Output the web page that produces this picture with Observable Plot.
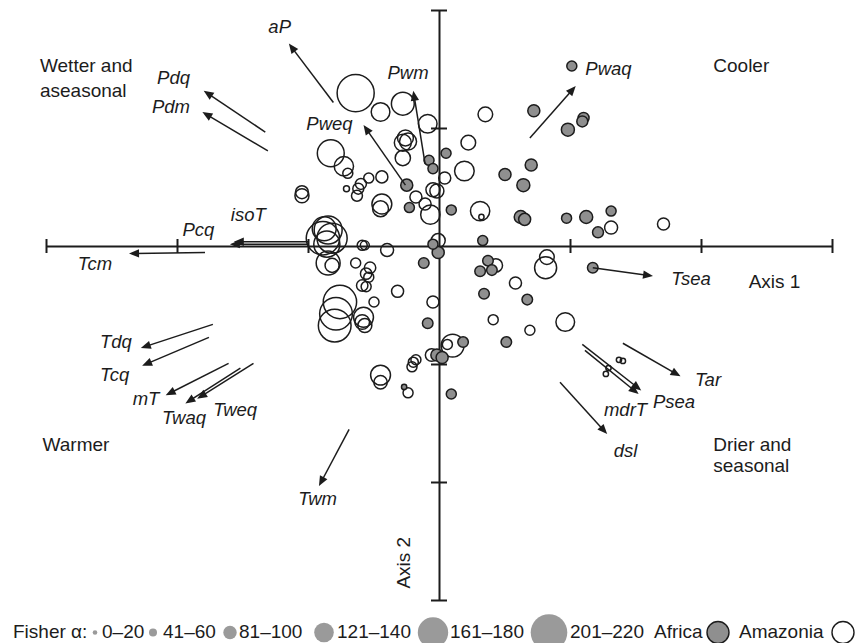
<!DOCTYPE html>
<html>
<head>
<meta charset="utf-8">
<script src="https://cdn.jsdelivr.net/npm/d3@7"></script>
<script src="https://cdn.jsdelivr.net/npm/@observablehq/plot@0.6"></script>
<style>
  html, body { margin: 0; padding: 0; background: #fff; }
  #chart { width: 857px; height: 643px; overflow: hidden; font-family: "Liberation Sans", Arial, Helvetica, sans-serif; }
  #chart svg { display: block; }
</style>
</head>
<body>
<div id="chart"></div>
<script>
// ---------- Amazonia plots (open circles): ordination scores + Fisher's alpha ----------
const amazX = [0.35,0.22,0.19,0.04,0.31,0.32,1.31,1.71,-0.01,-0.28,-0.45,-0.09,-0.64,-0.83,-0.73,-0.70,-0.28,-0.24,-0.26,-0.28,
  -0.44,-0.54,-0.60,-0.62,-0.63,-0.71,-1.05,-1.05,-0.44,-0.45,-0.18,-0.11,-0.07,-0.05,-0.02,-0.40,-0.85,-0.89,-0.82,-0.86,
  -0.88,-0.85,-0.82,-0.64,-0.59,-0.57,-0.53,-0.56,-0.54,-0.59,-0.56,-0.32,-0.50,-0.76,-0.79,-0.80,-0.58,-0.59,-0.57,-0.05,
  0.43,0.82,0.81,0.58,0.41,0.69,0.96,0.10,0.06,-0.06,-0.20,-0.21,-0.18,-0.45,-0.45,-0.24,1.37,1.40,1.29,1.27];
const amazY = [1.12,0.88,0.64,0.58,0.30,0.25,0.16,0.19,0.05,1.21,1.14,1.04,1.30,0.79,0.68,0.62,0.88,0.89,0.92,0.75,
  0.59,0.58,0.53,0.49,0.43,0.49,0.43,0.46,0.36,0.32,0.42,0.36,0.27,0.48,0.47,-0.03,0.14,0.07,0.07,0.02,
  0.15,-0.14,-0.16,-0.14,0.01,0.01,-0.18,-0.23,-0.26,-0.33,-0.34,-0.38,-0.47,-0.47,-0.57,-0.67,-0.60,-0.64,-0.67,-0.47,
  -0.16,-0.09,-0.18,-0.31,-0.62,-0.71,-0.64,-0.84,-0.83,-0.92,-0.98,-1.02,-0.96,-1.09,-1.15,-1.24,-0.96,-0.97,-1.03,-1.08];
const amazAlpha = [98,98,130,80,128,18,87,80,94,142,124,124,213,157,128,65,113,113,106,102,
  80,65,72,72,72,26,94,87,131,106,80,80,128,94,94,87,161,189,169,154,
  146,146,94,65,65,57,75,75,65,75,65,80,65,189,185,185,131,98,94,80,
  90,98,139,80,65,65,124,142,65,84,65,65,65,131,90,65,18,18,18,18];

// ---------- Africa plots (grey filled circles) ----------
const afrX = [1.01,0.72,1.10,1.09,0.98,0.05,0.70,0.50,0.64,0.09,0.62,0.65,0.97,1.12,1.31,1.21,0.33,-0.08,-0.05,-0.25,
  -0.23,-0.05,-0.01,-0.12,-0.09,0.37,0.31,0.40,0.34,0.67,0.51,0.18,-0.02,0.02,0.09,-0.27,1.17];
const afrY = [1.53,1.15,1.09,1.06,0.99,0.79,0.69,0.61,0.52,0.31,0.25,0.23,0.24,0.25,0.30,0.12,0.05,0.73,0.66,0.52,
  0.33,0.02,-0.05,-0.14,-0.65,-0.12,-0.21,-0.20,-0.40,-0.45,-0.81,-0.81,-0.92,-0.94,-1.25,-1.19,-0.18];
const afrAlpha = [65,80,72,72,87,65,80,80,87,65,87,80,65,87,65,72,65,65,65,80,
  65,65,80,69,69,69,69,69,69,69,69,69,80,80,65,18,69];

// ---------- Climate variable vectors ----------
const varNames = ["aP","Pdq","Pdm","Pweq","Pwm","Pwaq","isoT","Pcq","Tcm","Tdq","Tcq","mT","Twaq","Tweq","Twm","dsl","mdrT","Psea","Tar","Tsea"];
const varX1 = [-0.81,-1.33,-1.31,-0.26,-0.11,0.69,-1.00,-1.00,-1.79,-1.73,-1.76,-1.61,-1.52,-1.42,-0.69,0.92,1.09,1.11,1.40,1.17];
const varY1 = [1.22,0.97,0.81,0.52,0.70,0.92,0.04,0.02,-0.05,-0.66,-0.77,-0.99,-1.03,-0.99,-1.55,-1.15,-0.83,-0.88,-0.82,-0.18];
const varX2 = [-1.15,-1.80,-1.81,-0.58,-0.20,1.04,-1.57,-1.60,-2.37,-2.28,-2.27,-2.09,-1.94,-1.85,-0.92,1.28,1.54,1.52,1.84,1.63];
const varY2 = [1.72,1.32,1.14,1.03,1.32,1.36,0.04,0.02,-0.06,-0.86,-1.01,-1.26,-1.33,-1.29,-2.03,-1.59,-1.22,-1.25,-1.10,-0.25];
const varLabelX = [-1.22,-2.03,-2.05,-0.84,-0.24,1.29,-1.46,-1.84,-2.63,-2.47,-2.48,-2.24,-1.95,-1.56,-0.93,1.42,1.42,1.79,2.05,1.92];
const varLabelY = [1.86,1.43,1.18,1.04,1.47,1.50,0.27,0.14,-0.15,-0.81,-1.09,-1.29,-1.45,-1.39,-2.14,-1.73,-1.39,-1.32,-1.13,-0.28];

// ---------- Axes, ticks and annotations ----------
const xDomain = [-3, 3];
const yDomain = [-3, 2];
const xTicks = [-3, -2, -1, 1, 2, 3];
const yTicks = [-3, -2, -1, 1, 2];
const quadText = ["Wetter and", "aseasonal", "Cooler", "Warmer", "Drier and", "seasonal"];
const quadX = [-3.05, -3.05, 2.09, -3.03, 2.09, 2.09];
const quadY = [1.53, 1.32, 1.53, -1.68, -1.68, -1.86];
const axisTitles = ["Axis 1", "Axis 2"];
const axisTitleX = [2.36, -0.27];
const axisTitleY = [-0.30, -2.68];

// ---------- Legend ----------
const legendAlpha = [10, 50, 90, 130, 170, 210];
const legendAlphaLabels = ["0\u201320", "41\u201360", "81\u2013100", "121\u2013140", "161\u2013180", "201\u2013220"];
const legendRegions = ["Africa", "Amazonia"];

// Fisher's alpha -> circle radius (piecewise, matching the legend classes)
const radius = d3.scaleLinear().domain(legendAlpha).range([2.3, 4, 6.7, 9.8, 15.2, 18.3]);

const FONT = '"Liberation Sans", Arial, Helvetica, sans-serif';
const INK = "#1c1c1c";
const GREY = "#8f8f8f";

const W = 857, H = 608, TOTAL_H = 643;
const xRange = [46, 832], yRange = [600, 10];
const kx = (xRange[1] - xRange[0]) / (xDomain[1] - xDomain[0]);
const ky = (yRange[0] - yRange[1]) / (yDomain[1] - yDomain[0]);

const amaz = amazX.map((x, i) => ({x, y: amazY[i], alpha: amazAlpha[i], region: "Amazonia"}));
const afr = afrX.map((x, i) => ({x, y: afrY[i], alpha: afrAlpha[i], region: "Africa"}));

const HEAD = 10;
const vars = varNames.map((name, i) => {
  const x1 = varX1[i], y1 = varY1[i], x2 = varX2[i], y2 = varY2[i];
  const dx = (x2 - x1) * kx, dy = (y2 - y1) * ky;
  const len = Math.hypot(dx, dy);
  const cut = HEAD * 0.6;
  return {
    name, x1, y1, x2, y2,
    ex: x2 - (dx / len) * cut / kx,
    ey: y2 - (dy / len) * cut / ky,
    angle: Math.atan2(dx, dy) * 180 / Math.PI,
    lx: varLabelX[i], ly: varLabelY[i]
  };
});
const quads = quadText.map((t, i) => ({t, x: quadX[i], y: quadY[i]}));

const tickHalfY = 7 / ky, tickHalfX = 8 / kx;

const plot = Plot.plot({
  width: W,
  height: H,
  margin: 0,
  x: {domain: xDomain, range: xRange, axis: null},
  y: {domain: yDomain, range: yRange, axis: null},
  r: {type: "identity"},
  style: {fontFamily: FONT, background: "#fff", color: INK},
  marks: [
    // axes
    Plot.ruleY([0], {x1: xDomain[0], x2: xDomain[1], stroke: INK, strokeWidth: 2}),
    Plot.ruleX([0], {y1: yDomain[0], y2: yDomain[1], stroke: INK, strokeWidth: 2}),
    Plot.ruleX(xTicks, {x: d => d, y1: -tickHalfY, y2: tickHalfY, stroke: INK, strokeWidth: 2}),
    Plot.ruleY(yTicks, {y: d => d, x1: -tickHalfX, x2: tickHalfX, stroke: INK, strokeWidth: 2}),
    // plots
    Plot.dot(amaz, {x: "x", y: "y", r: d => radius(d.alpha), fill: "none", stroke: INK, strokeWidth: 1.5}),
    Plot.dot(afr, {x: "x", y: "y", r: d => radius(d.alpha), fill: GREY, stroke: INK, strokeWidth: 1.5}),
    // climate vectors
    Plot.link(vars, {x1: "x1", y1: "y1", x2: "ex", y2: "ey", stroke: INK, strokeWidth: 1.5}),
    Plot.vector(vars, {x: "x2", y: "y2", rotate: "angle", length: HEAD, shape: "spike", r: 4.2, anchor: "end", fill: INK, stroke: "none"}),
    Plot.text(vars, {x: "lx", y: "ly", text: "name", fontSize: 18.5, fontStyle: "italic", fill: INK}),
    // quadrant annotations
    Plot.text(quads, {x: "x", y: "y", text: "t", textAnchor: "start", fontSize: 19, fill: INK}),
    Plot.text([0], {x: axisTitleX[0], y: axisTitleY[0], text: [axisTitles[0]], textAnchor: "start", fontSize: 19, fill: INK}),
    Plot.text([0], {x: axisTitleX[1], y: axisTitleY[1], text: [axisTitles[1]], rotate: -90, fontSize: 19, fill: INK})
  ]
});

const chart = document.getElementById("chart");
chart.appendChild(plot);

// legend below the plot
const LH = TOTAL_H - H;
const lg = d3.create("svg").attr("width", W).attr("height", LH)
  .style("font-family", FONT).style("font-size", "19px").style("display", "block");
const baseY = LH - 5, cy = LH - 10.5;
lg.append("text").attr("x", 13).attr("y", baseY).attr("fill", INK).text("Fisher \u03B1:");
const circleCx = [95, 153, 230, 324, 433, 549];
const labelStart = [102, 163, 239, 337, 450, 570];
legendAlpha.forEach((a, i) => {
  lg.append("circle").attr("cx", circleCx[i]).attr("cy", cy).attr("r", radius(a)).attr("fill", "#9a9a9a");
  lg.append("text").attr("x", labelStart[i]).attr("y", baseY).attr("fill", INK).text(legendAlphaLabels[i]);
});
const regionTextX = [654, 739], regionCx = [718, 843];
legendRegions.forEach((reg, i) => {
  lg.append("text").attr("x", regionTextX[i]).attr("y", baseY).attr("fill", INK).text(reg);
  lg.append("circle").attr("cx", regionCx[i]).attr("cy", cy).attr("r", 11)
    .attr("fill", reg === "Africa" ? GREY : "none").attr("stroke", INK).attr("stroke-width", 1.4);
});
chart.appendChild(lg.node());
</script>
</body>
</html>
